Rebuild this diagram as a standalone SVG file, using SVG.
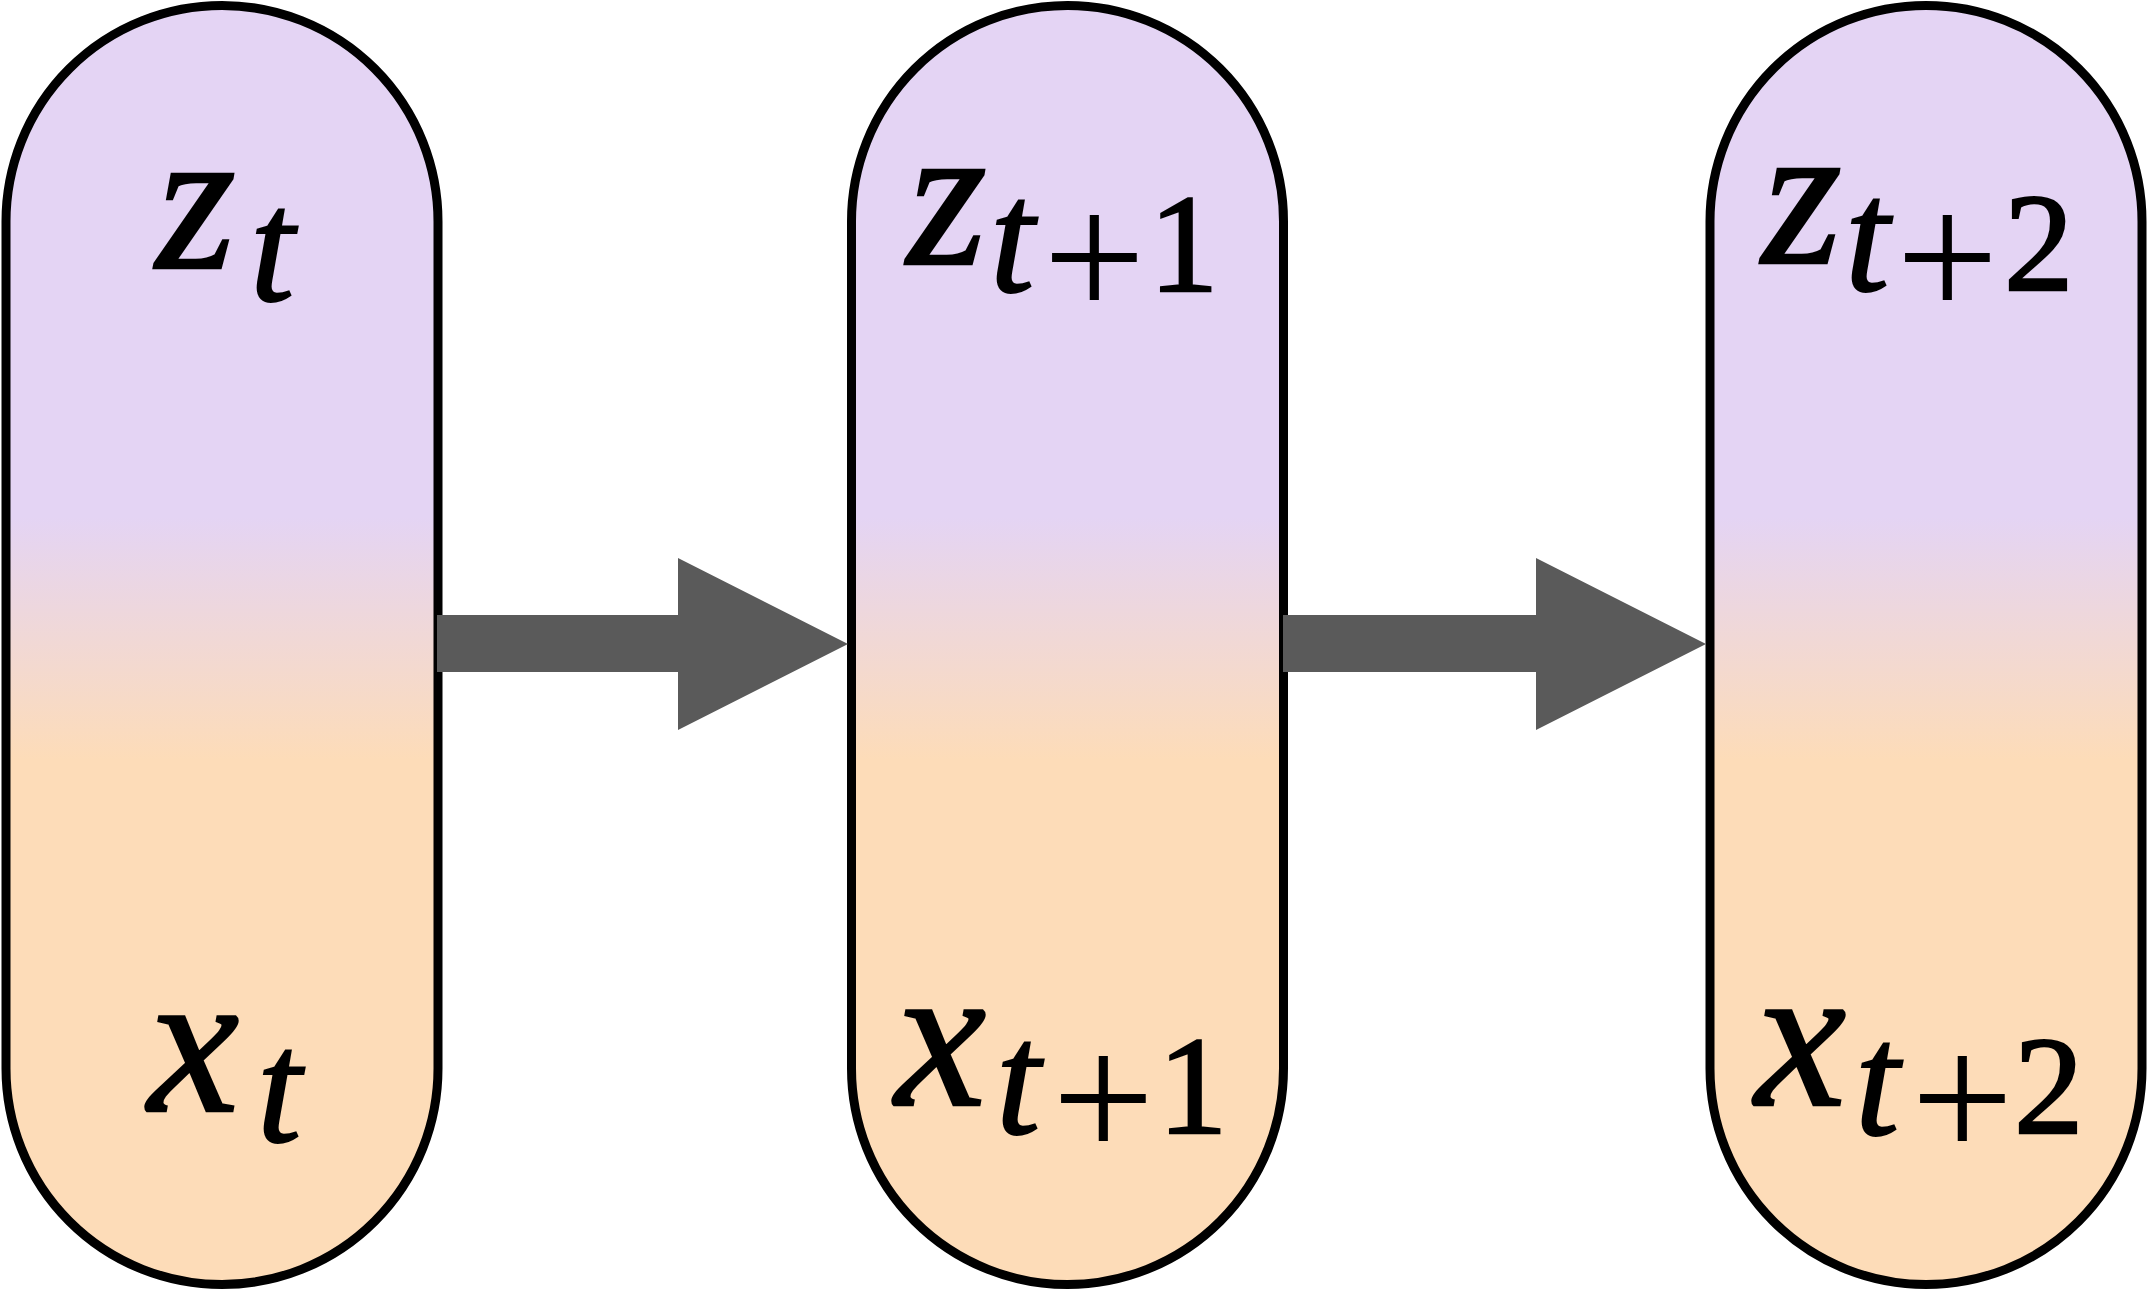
<svg xmlns="http://www.w3.org/2000/svg" width="2148" height="1290" viewBox="0 0 2148 1290">
<defs>
<linearGradient id="fillGrad" x1="0" y1="0" x2="0" y2="1">
<stop offset="0.40" stop-color="#E4D4F4"/>
<stop offset="0.59" stop-color="#FDDCB8"/>
</linearGradient>
<style>
.pill { fill: url(#fillGrad); stroke: #000; stroke-width: 9; }
.arrow { fill: #5A5A5A; }
.lbl { font-family: "Liberation Serif", serif; fill: #000; }
.main { font-size: 205px; font-style: italic; stroke: #000; stroke-width: 2.5; }
.sub { font-size: 160px; font-style: italic; stroke: #000; stroke-width: 2; }
.op { font-size: 182px; font-style: normal; }
.dig { font-size: 139px; font-style: normal; stroke: #000; stroke-width: 2.5; }
</style>
</defs>
<rect width="2148" height="1290" fill="#FFFFFF"/>
<g id="node-t">
<rect class="pill" x="6" y="5.5" width="432" height="1279" rx="216" ry="216"/>
<text class="lbl"><tspan class="main" x="156" y="268">z</tspan><tspan class="sub" x="250" y="300">t</tspan></text>
<text class="lbl"><tspan class="main" x="148" y="1111">x</tspan><tspan class="sub" x="257" y="1141">t</tspan></text>
</g>
<g id="node-t1">
<rect class="pill" x="851.5" y="5.5" width="432" height="1279" rx="216" ry="216"/>
<text class="lbl"><tspan class="main" x="907" y="264">z</tspan><tspan class="sub" x="990" y="291">t</tspan><tspan class="op" x="1043" y="318">+</tspan><tspan class="dig" x="1149" y="291">1</tspan></text>
<text class="lbl"><tspan class="main" x="895" y="1105">x</tspan><tspan class="sub" x="996" y="1133">t</tspan><tspan class="op" x="1052" y="1159">+</tspan><tspan class="dig" x="1158" y="1133">1</tspan></text>
</g>
<g id="node-t2">
<rect class="pill" x="1710" y="5.5" width="432" height="1279" rx="216" ry="216"/>
<text class="lbl"><tspan class="main" x="1762" y="263">z</tspan><tspan class="sub" x="1845" y="290">t</tspan><tspan class="op" x="1896" y="318">+</tspan><tspan class="dig" x="2004" y="290">2</tspan></text>
<text class="lbl"><tspan class="main" x="1755" y="1105">x</tspan><tspan class="sub" x="1855" y="1134">t</tspan><tspan class="op" x="1911" y="1159">+</tspan><tspan class="dig" x="2014" y="1133">2</tspan></text>
</g>
<g id="connectors">
<polygon class="arrow" points="437,615 678,615 678,558 848,644 678,730 678,672 437,672"/>
<polygon class="arrow" points="1283,615 1536,615 1536,558 1706,644 1536,730 1536,672 1283,672"/>
</g>
</svg>
